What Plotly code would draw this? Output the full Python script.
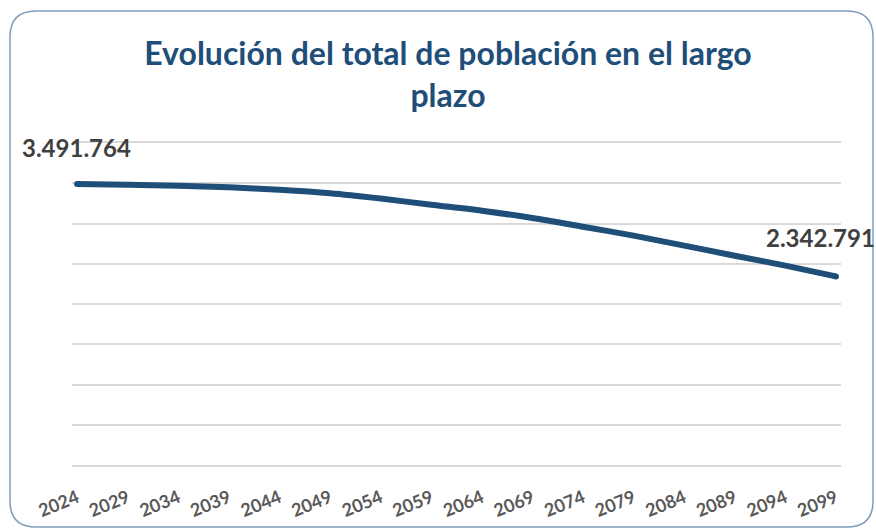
import plotly.graph_objects as go

years = [2024, 2029, 2034, 2039, 2044, 2049, 2054, 2059, 2064, 2069, 2074, 2079, 2084, 2089, 2094, 2099]
population = [3491764, 3481000, 3469000, 3450000, 3419000, 3376000, 3310000, 3233000,
              3159000, 3068000, 2960000, 2849000, 2725000, 2600000, 2476000, 2342791]
tick_labels = [str(y) for y in years]
title_text = "Evolución del total de población en el largo<br>plazo"

W, H = 876, 532
L, R, T, B = 72, 35, 143, 67
pw, ph = W - L - R, H - T - B

def px(x):
    return (x - L) / pw

def py(y):
    return (H - B - y) / ph

# rounded frame
x0, x1, y0, y1, rr = 10, 873, 11, 527, 26
path = (f"M {px(x0+rr)} {py(y0)} L {px(x1-rr)} {py(y0)} "
        f"Q {px(x1)} {py(y0)} {px(x1)} {py(y0+rr)} "
        f"L {px(x1)} {py(y1-rr)} Q {px(x1)} {py(y1)} {px(x1-rr)} {py(y1)} "
        f"L {px(x0+rr)} {py(y1)} Q {px(x0)} {py(y1)} {px(x0)} {py(y1-rr)} "
        f"L {px(x0)} {py(y0+rr)} Q {px(x0)} {py(y0)} {px(x0+rr)} {py(y0)} Z")

fig = go.Figure()
fig.add_trace(go.Scatter(
    x=years, y=population, mode="lines",
    line=dict(color="#1F4E79", width=6, shape="spline", smoothing=0.8),
    hoverinfo="x+y", showlegend=False, cliponaxis=False,
))
# round line caps at both ends
fig.add_trace(go.Scatter(
    x=[years[0], years[-1]], y=[population[0], population[-1]], mode="markers",
    marker=dict(color="#1F4E79", size=6), hoverinfo="skip", showlegend=False, cliponaxis=False,
))

label_font = dict(family="Lato", size=24, color="#404040", weight="bold")
fig.add_annotation(x=years[0], y=population[0], xref="x", yref="y",
                   text=f"{population[0]:,}".replace(",", "."), showarrow=False,
                   xanchor="center", yanchor="bottom", yshift=20, xshift=-1, font=label_font)
fig.add_annotation(x=years[-1], y=population[-1], xref="x", yref="y",
                   text=f"{population[-1]:,}".replace(",", "."), showarrow=False,
                   xanchor="center", yanchor="bottom", yshift=22, xshift=-15, font=label_font)

fig.update_layout(
    width=W, height=H,
    margin=dict(l=L, r=R, t=T, b=B),
    paper_bgcolor="white", plot_bgcolor="white",
    title=dict(text=title_text, x=448 / W, xanchor="center", xref="container",
               y=1 - 65 / H, yanchor="top", yref="container",
               font=dict(family="Lato", size=32, color="#1F4E79", weight="bold")),
    xaxis=dict(
        range=[2023.5, 2099.5], tickmode="array", tickvals=years, ticktext=tick_labels,
        tickangle=-22, showgrid=False, zeroline=False,
        showline=True, mirror=True, linecolor="#D9D9D9", linewidth=1.5,
        ticks="outside", ticklen=14, tickcolor="rgba(0,0,0,0)",
        tickfont=dict(family="Lato", size=18, color="#595959", weight="bold"),
    ),
    yaxis=dict(
        range=[0, 4000000], dtick=500000, showticklabels=False,
        showgrid=True, gridcolor="#D9D9D9", gridwidth=1.5, zeroline=False, showline=False,
    ),
    shapes=[dict(type="path", path=path, xref="paper", yref="paper",
                 line=dict(color="#7F9DB9", width=1.5), layer="above")],
)

fig.write_html("out.html", config={"displayModeBar": False},
               post_script="document.body.style.margin='0';document.body.style.overflow='hidden';")
